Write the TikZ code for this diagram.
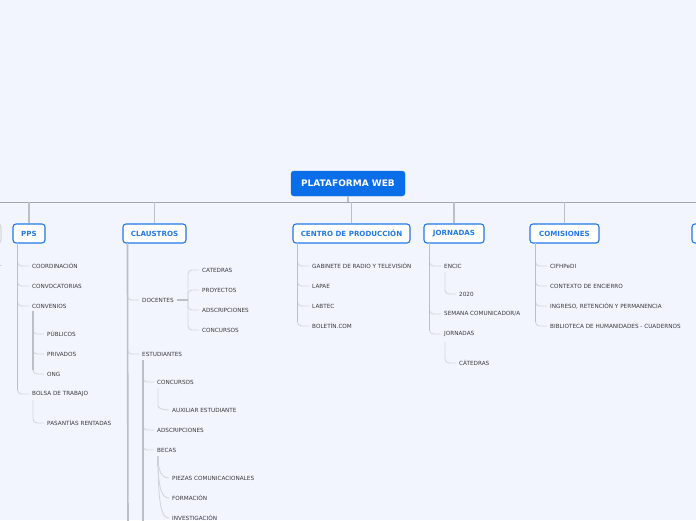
\documentclass[tikz,border=0pt]{standalone}
\usepackage{fontspec}
\setmainfont{DejaVu Sans}
\usetikzlibrary{calc}
\definecolor{bg}{HTML}{F2F5FE}
\definecolor{rootblue}{HTML}{0A6EE8}
\definecolor{nodeblue}{HTML}{2279E6}
\definecolor{txt}{HTML}{3A3A3A}
\definecolor{mainline}{HTML}{A6A7AE}
\definecolor{branchline}{HTML}{BDBFC6}
\definecolor{leafline}{HTML}{D4D6DC}
\begin{document}
\begin{tikzpicture}[x=1pt,y=-1pt,
 rootbox/.style={fill=rootblue, draw=rootblue, rounded corners=3pt, text=white, font=\fontsize{9}{10}\selectfont\bfseries, minimum height=25pt, minimum width=114pt, inner xsep=0pt},
 topic/.style={fill=white, draw=nodeblue, line width=1.1pt, rounded corners=3pt, text=nodeblue, font=\fontsize{7.1}{8}\selectfont\bfseries, minimum height=19pt, inner xsep=0pt},
 leaf/.style={anchor=west, text=txt, font=\fontsize{5.7}{6.5}\selectfont, inner xsep=3pt, inner ysep=1pt},
 mainconn/.style={draw=mainline, line width=0.9pt},
 dropconn/.style={draw=branchline, line width=1.4pt},
 trunk/.style={draw=branchline, line width=1.6pt},
 leafconn/.style={draw=leafline, line width=0.9pt, rounded corners=4pt},
]
\fill[bg] (0,0) rectangle (696,520);
\useasboundingbox (0,0) rectangle (696,520);
\clip (0,0) rectangle (696,520);

% root and main line
\node[rootbox] (root) at (348,183.5) {PLATAFORMA WEB};
\coordinate (hl) at (-100,202);
\coordinate (hr) at (800,202);
\draw[mainconn] (hl) -- (hr);
\draw[dropconn] (root.south) -- (root.south |- hl);

% level-1 topics
\node[topic, minimum width=32pt] (pps) at (29,233.5) {PPS};
\node[topic, minimum width=63pt] (cla) at (154.5,233.5) {CLAUSTROS};
\node[topic, minimum width=117pt] (cen) at (351.5,233.5) {CENTRO DE PRODUCCIÓN};
\node[topic, minimum width=60pt] (jor) at (454,233.5) {JORNADAS};
\node[topic, minimum width=69pt] (com) at (564.5,233.5) {COMISIONES};
\node[topic, draw=leafline, minimum width=60pt] (lp) at (-29,233.5) {};
\node[topic, minimum width=60pt] (rp) at (722,233.5) {};
\foreach \n in {lp,pps,cla,cen,jor,com,rp}{\draw[dropconn] (\n.north) -- (\n.north |- hl);}

% left partial child tick
\coordinate (lpt) at (2,265);
\draw[leafconn] (-10,265) -- (lpt);

% PPS
\node[leaf] (p1) at (29,266) {COORDINACIÓN};
\node[leaf] (p2) at (29,286) {CONVOCATORIAS};
\node[leaf] (p3) at (29,306) {CONVENIOS};
\node[leaf] (p4) at (29,394) {BOLSA DE TRABAJO};
\coordinate (pt) at ($(pps.south west)+(5,0)$);
\foreach \c in {p1,p2,p3,p4}{\draw[leafconn] (pt) |- (\c.west);}
\draw[trunk] (pt) -- ($(pt |- p4.west)+(0,-4)$);

\node[leaf] (p31) at (44,334) {PÚBLICOS};
\node[leaf] (p32) at (44,354) {PRIVADOS};
\node[leaf] (p33) at (44,374) {ONG};
\coordinate (p3t) at (33,311);
\foreach \c in {p31,p32,p33}{\draw[leafconn] (p3t) |- (\c.west);}
\draw[trunk] (p3t) -- ($(p3t |- p33.west)+(0,-4)$);

\node[leaf] (p41) at (44,423) {PASANTÍAS RENTADAS};
\coordinate (p4t) at (33,400);
\draw[leafconn] (p4t) |- (p41.west);

% CLAUSTROS
\node[leaf] (c1) at (139,300) {DOCENTES};
\node[leaf] (c2) at (139,354) {ESTUDIANTES};
\coordinate (ct) at ($(cla.south west)+(5,0)$);
\coordinate (cb) at (128,530);
\foreach \c in {c1,c2}{\draw[leafconn] (ct) |- (\c.west);}
\draw[trunk] (ct) -- (cb);

\node[leaf] (c11) at (199,270) {CATEDRAS};
\node[leaf] (c12) at (199,290) {PROYECTOS};
\node[leaf] (c13) at (199,310) {ADSCRIPCIONES};
\node[leaf] (c14) at (199,330) {CONCURSOS};
\coordinate (c1j) at (188,300);
\foreach \c in {c11,c12,c13,c14}{\draw[leafconn] (c1j) |- (\c.west);}
\draw[trunk] (c1.east) -- (c1j);

\node[leaf] (c21) at (154,382) {CONCURSOS};
\node[leaf] (c22) at (154,430) {ADSCRIPCIONES};
\node[leaf] (c23) at (154,450) {BECAS};
\coordinate (c2t) at (143,360);
\coordinate (c2b) at (143,530);
\foreach \c in {c21,c22,c23}{\draw[leafconn] (c2t) |- (\c.west);}
\draw[trunk] (c2t) -- (c2b);

\node[leaf] (c211) at (169,410) {AUXILIAR ESTUDIANTE};
\coordinate (c21t) at (158,388);
\draw[leafconn] (c21t) -- (158,402) .. controls (158,408) and (162,410) .. (c211.west);

\node[leaf] (c231) at (169,478) {PIEZAS COMUNICACIONALES};
\node[leaf] (c232) at (169,498) {FORMACIÓN};
\node[leaf] (c233) at (169,518) {INVESTIGACIÓN};
\coordinate (c23t) at (158,456);
\draw[trunk, line width=1.2pt] (c23t) -- (158,466);
\draw[leafconn] (c23t) .. controls (158,472) and (162,478) .. (c231.west);
\draw[leafconn] (c23t) .. controls (158,490) and (162,498) .. (c232.west);
\draw[leafconn] (c23t) .. controls (158,508) and (162,518) .. (c233.west);

% CENTRO
\node[leaf] (e1) at (309,266) {GABINETE DE RADIO Y TELEVISIÓN};
\node[leaf] (e2) at (309,286) {LAPAE};
\node[leaf] (e3) at (309,306) {LABTEC};
\node[leaf] (e4) at (309,326) {BOLETÍN.COM};
\coordinate (et) at ($(cen.south west)+(5,0)$);
\foreach \c in {e1,e2,e3,e4}{\draw[leafconn] (et) |- (\c.west);}
\draw[trunk] (et) -- ($(et |- e4.west)+(0,-4)$);

% JORNADAS
\node[leaf] (j1) at (441,266) {ENCIC};
\node[leaf] (j2) at (441,314) {SEMANA COMUNICADOR/A};
\node[leaf] (j3) at (441,334) {JORNADAS};
\coordinate (jt) at ($(jor.south west)+(6,0)$);
\foreach \c in {j1,j2,j3}{\draw[leafconn] (jt) |- (\c.west);}
\draw[trunk] (jt) -- ($(jt |- j3.west)+(0,-4)$);

\node[leaf] (j11) at (456,294) {2020};
\coordinate (j1t) at (445,272);
\draw[leafconn] (j1t) |- (j11.west);
\node[leaf] (j31) at (456,363) {CÁTEDRAS};
\coordinate (j3t) at (445,342);
\draw[leafconn] (j3t) |- (j31.west);

% COMISIONES
\node[leaf] (m1) at (547,266) {CIFHPeDI};
\node[leaf] (m2) at (547,286) {CONTEXTO DE ENCIERRO};
\node[leaf] (m3) at (547,306) {INGRESO, RETENCIÓN Y PERMANENCIA};
\node[leaf] (m4) at (547,326) {BIBLIOTECA DE HUMANIDADES - CUADERNOS};
\coordinate (mt) at ($(com.south west)+(6,0)$);
\foreach \c in {m1,m2,m3,m4}{\draw[leafconn] (mt) |- (\c.west);}
\draw[trunk] (mt) -- ($(mt |- m4.west)+(0,-4)$);
\end{tikzpicture}
\end{document}
